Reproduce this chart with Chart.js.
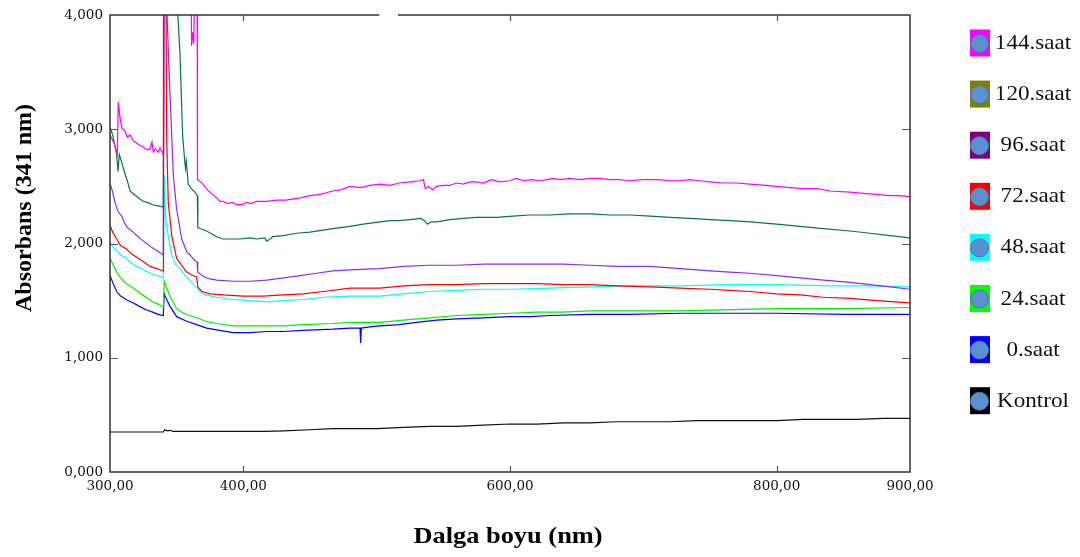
<!DOCTYPE html>
<html>
<head>
<meta charset="utf-8">
<script src="https://cdn.jsdelivr.net/npm/chart.js@4.4.1/dist/chart.umd.min.js"></script>
<style>
html, body { margin: 0; padding: 0; background: #fff; }
#wrap { width: 1080px; height: 557px; position: relative; }
</style>
</head>
<body>
<div id="wrap"><canvas id="spectrum"></canvas></div>
<script>
// Absorbance spectra, values: [wavelength nm, absorbance]
const seriesNames = ['144.saat', '120.saat', '96.saat', '72.saat', '48.saat', '24.saat', '0.saat', 'Kontrol'];
const lineColors = ['#ff00ff', '#007a3d', '#8a2cf2', '#ff0000', '#00ffff', '#00ee00', '#0000ff', '#111111'];
const legendColors = ['#ff00ff', '#808000', '#800080', '#ff0000', '#00ffff', '#00ff00', '#0000ff', '#000000'];
const xTickValues = [300, 400, 600, 800, 900];

const saat144 = [
    [300, 2.95], [303, 2.88], [305.5, 2.78], [306.2, 3.24], [307.5, 3.10], [309, 3.01], [311, 2.99], [313, 2.93],
    [315, 2.95], [317.5, 2.90], [320, 2.88], [322, 2.86], [324.5, 2.85], [326.5, 2.83], [328.5, 2.82], [330, 2.83],
    [331.5, 2.89], [332.5, 2.80], [334, 2.83], [336, 2.80], [337.5, 2.84], [339.5, 2.79], [340.2, 2.80], [340.6, 4.6],
    [360.5, 4.6], [361.2, 3.73], [362, 3.85], [362.8, 3.75], [363.5, 4.3], [365.3, 4.6], [365.6, 2.56], [367, 2.55],
    [369.75, 2.52], [373, 2.47], [377, 2.43], [380, 2.40], [382.5, 2.37], [385, 2.37], [388, 2.35], [392, 2.36],
    [395, 2.34], [398.8, 2.34], [402, 2.36], [406, 2.35], [410, 2.37], [417.5, 2.37], [425, 2.38], [432, 2.38],
    [442.5, 2.40], [450, 2.42], [458, 2.43], [467, 2.46], [473, 2.47], [480, 2.50], [488, 2.49], [495, 2.51],
    [502.5, 2.52], [510, 2.51], [517, 2.53], [525, 2.54], [532.5, 2.55], [535, 2.56], [536.5, 2.48], [539, 2.50],
    [542, 2.47], [545, 2.50], [550, 2.51], [555, 2.51], [560, 2.53], [565, 2.52], [570, 2.54], [575, 2.54],
    [580, 2.53], [586, 2.56], [592.5, 2.54], [600, 2.55], [605, 2.57], [610, 2.55], [616, 2.56], [622, 2.55],
    [628, 2.56], [632, 2.57], [638, 2.56], [645, 2.57], [652, 2.56], [660, 2.57], [667.5, 2.57], [675, 2.56],
    [682, 2.56], [690, 2.55], [700, 2.56], [705, 2.56], [712, 2.56], [720, 2.55], [727.5, 2.55], [735, 2.56],
    [742, 2.55], [750, 2.54], [760, 2.53], [770, 2.53], [780, 2.52], [792, 2.51], [800, 2.50], [810, 2.49],
    [820, 2.48], [830, 2.48], [840, 2.46], [855, 2.45], [865, 2.44], [875, 2.43], [885, 2.42], [892, 2.42], [900, 2.41]
];
const saat120 = [
    [300, 3.02], [302, 2.95], [303.75, 2.85], [305, 2.78], [306, 2.63], [307, 2.78], [308.8, 2.71], [311, 2.62],
    [313, 2.55], [315, 2.46], [317, 2.44], [319, 2.42], [322.5, 2.39], [325, 2.37], [328, 2.36], [332, 2.34],
    [336, 2.33], [340, 2.32], [340.5, 4.6], [350.5, 4.6], [350.8, 4.02], [352.5, 3.66], [354.5, 2.94], [356, 2.73],
    [356.6, 2.66], [357.2, 2.72], [358.7, 2.52], [361, 2.48], [363.75, 2.45], [365.5, 2.42], [365.9, 2.14], [368, 2.13],
    [372.5, 2.11], [377, 2.08], [380, 2.06], [384.75, 2.04], [390, 2.04], [397.5, 2.04], [405, 2.05], [410, 2.04],
    [416, 2.05], [417.5, 2.02], [419, 2.03], [422, 2.06], [430, 2.07], [440, 2.09], [450, 2.10], [467, 2.13],
    [480, 2.15], [490, 2.17], [502.5, 2.19], [510, 2.20], [517, 2.20], [525, 2.21], [533, 2.22], [536, 2.20],
    [538, 2.17], [541, 2.19], [545, 2.19], [555, 2.21], [565, 2.22], [575, 2.23], [590, 2.23], [602, 2.24],
    [615, 2.25], [630, 2.25], [645, 2.26], [660, 2.26], [675, 2.25], [690, 2.25], [705, 2.24], [720, 2.23],
    [735, 2.22], [750, 2.21], [765, 2.20], [780, 2.19], [800, 2.17], [817.5, 2.15], [835, 2.13], [855, 2.11],
    [870, 2.09], [885, 2.07], [900, 2.05]
];
const saat96 = [
    [300, 2.53], [302, 2.45], [303.75, 2.36], [306, 2.28], [308.8, 2.24], [311, 2.18], [313, 2.14], [317.5, 2.10],
    [320, 2.07], [324, 2.03], [327.5, 2.00], [332, 1.96], [336, 1.93], [340, 1.90], [340.5, 4.6], [342.5, 4.1],
    [344.25, 3.52], [346.3, 2.94], [347.5, 2.59], [350, 2.30], [353.8, 2.04], [357.5, 1.93], [360, 1.90], [363.75, 1.85],
    [365.3, 1.84], [365.8, 1.75], [368, 1.73], [372, 1.70], [375, 1.69], [380, 1.68], [392.5, 1.67], [405, 1.67],
    [417.5, 1.68], [430, 1.70], [442.5, 1.72], [455, 1.74], [467, 1.76], [480, 1.77], [502.5, 1.78], [520, 1.80],
    [540, 1.81], [560, 1.81], [580, 1.82], [602, 1.82], [620, 1.82], [640, 1.82], [660, 1.81], [680, 1.80],
    [705, 1.80], [727.5, 1.78], [750, 1.76], [765, 1.75], [780, 1.74], [800, 1.72], [817.5, 1.70], [835, 1.68],
    [855, 1.66], [870, 1.64], [885, 1.62], [900, 1.60]
];
const saat72 = [
    [300, 2.16], [302, 2.10], [305, 2.04], [308, 1.98], [312.5, 1.95], [316, 1.91], [320, 1.88], [325, 1.84],
    [330, 1.80], [335, 1.78], [340, 1.76], [340.1, 4.6], [341.8, 4.6], [342.5, 2.94], [343.7, 2.36], [346.3, 2.07],
    [350, 1.87], [355, 1.79], [357.5, 1.75], [362, 1.72], [365, 1.71], [365.8, 1.62], [369, 1.58], [375, 1.56],
    [385, 1.55], [400, 1.54], [415, 1.54], [430, 1.55], [445, 1.56], [460, 1.58], [480, 1.61], [502.5, 1.61],
    [520, 1.63], [540, 1.64], [560, 1.64], [580, 1.65], [602, 1.65], [620, 1.65], [640, 1.64], [660, 1.64],
    [680, 1.63], [705, 1.62], [727.5, 1.61], [750, 1.60], [765, 1.59], [780, 1.58], [800, 1.56], [817.5, 1.55],
    [835, 1.53], [855, 1.52], [875, 1.50], [900, 1.48]
];
const saat48 = [
    [300, 2.01], [302, 1.97], [305, 1.94], [308, 1.90], [312.5, 1.87], [316, 1.83], [320, 1.80], [325, 1.77],
    [330, 1.74], [335, 1.72], [340, 1.70], [340.8, 2.6], [341.7, 2.22], [343.7, 2.07], [346.3, 1.90], [349, 1.82],
    [352.5, 1.78], [357, 1.71], [361, 1.66], [365, 1.61], [367.5, 1.58], [372, 1.55], [380, 1.53], [392.5, 1.51],
    [405, 1.50], [417.5, 1.49], [430, 1.50], [445, 1.51], [460, 1.53], [480, 1.54], [502.5, 1.54], [520, 1.56],
    [540, 1.58], [560, 1.59], [580, 1.60], [602, 1.60], [630, 1.61], [660, 1.62], [690, 1.63], [727.5, 1.63],
    [760, 1.64], [800, 1.64], [840, 1.63], [870, 1.63], [900, 1.62]
];
const saat24 = [
    [300, 1.88], [302, 1.82], [305, 1.75], [308, 1.70], [312, 1.65], [317.5, 1.61], [322, 1.57], [327, 1.53],
    [332, 1.49], [336, 1.47], [340, 1.44], [340.7, 1.67], [342.5, 1.61], [345, 1.54], [350, 1.43], [355, 1.39],
    [360, 1.37], [365, 1.35], [372, 1.32], [380, 1.30], [392.5, 1.28], [405, 1.28], [417.5, 1.28], [430, 1.28],
    [445, 1.29], [467, 1.30], [480, 1.31], [502.5, 1.31], [520, 1.33], [540, 1.35], [560, 1.37], [580, 1.38],
    [600, 1.39], [620, 1.40], [640, 1.40], [660, 1.41], [690, 1.41], [727.5, 1.41], [760, 1.42], [800, 1.43],
    [850, 1.43], [900, 1.44]
];
const saat0 = [
    [300, 1.72], [302, 1.66], [305, 1.58], [308, 1.54], [312, 1.51], [317.5, 1.48], [322, 1.45], [327, 1.42],
    [332, 1.40], [336, 1.38], [340, 1.37], [340.6, 1.56], [342.5, 1.51], [345, 1.45], [350, 1.36], [357.5, 1.32],
    [365, 1.29], [372.5, 1.26], [382, 1.24], [392.5, 1.22], [405, 1.22], [417.5, 1.23], [430, 1.23], [445, 1.24],
    [467, 1.25], [480, 1.26], [487.5, 1.26], [488, 1.13], [488.5, 1.26], [495, 1.27], [502.5, 1.28], [517, 1.29],
    [530, 1.31], [545, 1.33], [560, 1.34], [580, 1.35], [600, 1.36], [615, 1.36], [630, 1.37], [660, 1.38],
    [690, 1.38], [727.5, 1.39], [760, 1.39], [800, 1.39], [850, 1.38], [900, 1.38]
];
const kontrol = [
    [300, 0.35], [320, 0.35], [340, 0.35], [341, 0.37], [343, 0.36], [345, 0.365], [347, 0.355], [360, 0.355],
    [380, 0.355], [400, 0.355], [417, 0.355], [430, 0.36], [450, 0.37], [467, 0.38], [480, 0.38], [500, 0.38],
    [520, 0.39], [540, 0.40], [560, 0.40], [580, 0.41], [600, 0.42], [620, 0.42], [640, 0.43], [660, 0.43],
    [680, 0.44], [700, 0.44], [720, 0.44], [740, 0.45], [760, 0.45], [780, 0.45], [800, 0.45], [820, 0.46],
    [840, 0.46], [860, 0.46], [880, 0.47], [900, 0.47]
];
const seriesData = [saat144, saat120, saat96, saat72, saat48, saat24, saat0, kontrol];

// draw text squeezed/stretched horizontally (source image is a bit wide)
function wideText(ctx, text, x, y, sx) {
    ctx.save();
    ctx.translate(x, y);
    ctx.scale(sx, 1);
    ctx.fillText(text, 0, 0);
    ctx.restore();
}

// box around the plot with inward tick marks
const framePlugin = {
    id: 'frame',
    afterDatasetsDraw(chart) {
        const { ctx, chartArea: a, scales: { x, y } } = chart;
        ctx.save();
        ctx.strokeStyle = '#333';
        ctx.lineWidth = 1.5;
        const gapL = x.getPixelForValue(502), gapR = x.getPixelForValue(516);
        ctx.beginPath();
        ctx.moveTo(gapL, a.top);
        ctx.lineTo(a.left, a.top);
        ctx.lineTo(a.left, a.bottom);
        ctx.lineTo(a.right, a.bottom);
        ctx.lineTo(a.right, a.top);
        ctx.lineTo(gapR, a.top);
        ctx.stroke();

        ctx.lineWidth = 1.2;
        ctx.strokeStyle = '#555';
        ctx.beginPath();
        [400, 600, 800].forEach(v => {
            const px = Math.round(x.getPixelForValue(v)) + 0.5;
            ctx.moveTo(px, a.bottom); ctx.lineTo(px, a.bottom - 6);
            ctx.moveTo(px, a.top); ctx.lineTo(px, a.top + 6);
        });
        [1, 2, 3].forEach(v => {
            const py = Math.round(y.getPixelForValue(v)) + 0.5;
            ctx.moveTo(a.left, py); ctx.lineTo(a.left + 8, py);
            ctx.moveTo(a.right, py); ctx.lineTo(a.right - 8, py);
        });
        ctx.stroke();
        ctx.restore();
    }
};

// axis titles + the boxed legend on the right
const decorPlugin = {
    id: 'decor',
    afterDraw(chart) {
        const { ctx, chartArea: a } = chart;
        ctx.save();
        ctx.fillStyle = '#000';
        ctx.textAlign = 'center';
        ctx.textBaseline = 'middle';

        ctx.font = 'bold 24px "Liberation Serif", "Times New Roman", serif';
        wideText(ctx, 'Dalga boyu (nm)', (a.left + a.right) / 2 - 2, 537, 1.1);

        ctx.save();
        ctx.translate(25, 208);
        ctx.rotate(-Math.PI / 2);
        ctx.font = 'bold 24px "Liberation Serif", "Times New Roman", serif';
        ctx.fillText('Absorbans (341 nm)', 0, 0);
        ctx.restore();

        chart.data.datasets.forEach((ds, i) => {
            const top = 29.5 + i * 51.1;
            ctx.fillStyle = legendColors[i];
            ctx.fillRect(970, top, 20, 27);
            ctx.beginPath();
            ctx.arc(979.5, top + 14, 9, 0, Math.PI * 2);
            ctx.fillStyle = '#5b8fcf';
            ctx.fill();
            ctx.strokeStyle = '#4676b0';
            ctx.lineWidth = 1;
            ctx.stroke();
            ctx.fillStyle = '#111';
            ctx.font = '21px "Liberation Serif", "Times New Roman", serif';
            wideText(ctx, ds.label, 1033, top + 14, 1.1);
        });
        ctx.restore();
    }
};

new Chart(document.getElementById('spectrum'), {
    type: 'line',
    data: {
        datasets: seriesNames.map((name, i) => ({
            label: name,
            data: seriesData[i].map(p => ({ x: p[0], y: p[1] })),
            borderColor: lineColors[i],
            backgroundColor: lineColors[i],
            borderWidth: 1.2,
            pointRadius: 0,
            tension: 0,
            fill: false,
            // red 341 nm spike sits on top of the others
            order: name === '72.saat' ? -1 : 0
        }))
    },
    options: {
        responsive: true,
        maintainAspectRatio: false,
        animation: false,
        layout: { padding: { left: 0, right: 170, top: 11, bottom: 0 } },
        plugins: {
            legend: { display: false },
            tooltip: { enabled: false }
        },
        scales: {
            x: {
                type: 'linear',
                min: 300,
                max: 900,
                afterBuildTicks: s => { s.ticks = xTickValues.map(v => ({ value: v })); },
                afterFit: s => { s.height = 85; },
                grid: { display: false, drawTicks: false },
                border: { display: false },
                ticks: {
                    padding: 6,
                    color: '#111',
                    autoSkip: false,
                    maxRotation: 0,
                    font: { family: 'DejaVu Serif', size: 13.5 },
                    callback: v => v.toFixed(2).replace('.', ',')
                }
            },
            y: {
                min: 0,
                max: 4,
                afterFit: s => { s.width = 110; },
                grid: { display: false, drawTicks: false },
                border: { display: false },
                ticks: {
                    stepSize: 1,
                    padding: 7,
                    color: '#111',
                    font: { family: 'DejaVu Serif', size: 13.5 },
                    callback: v => v.toFixed(3).replace('.', ',')
                }
            }
        }
    },
    plugins: [framePlugin, decorPlugin]
});
</script>
</body>
</html>
